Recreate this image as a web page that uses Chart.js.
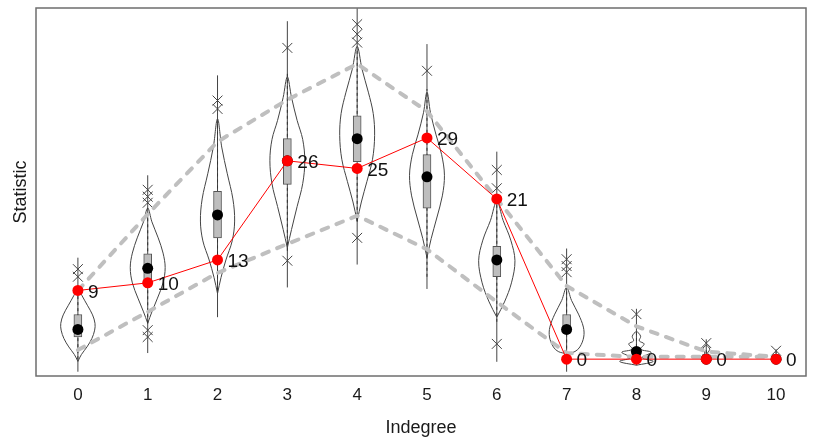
<!DOCTYPE html>
<html>
<head>
<meta charset="utf-8">
<script src="https://cdn.jsdelivr.net/npm/chart.js@4/dist/chart.umd.min.js"></script>
<style>
  html, body { margin: 0; padding: 0; background: #ffffff; }
  #wrap { width: 814px; height: 446px; }
</style>
</head>
<body>
<div id="wrap"><canvas id="c" width="814" height="446"></canvas></div>
<script>
// ---- data ----
const categories = [0, 1, 2, 3, 4, 5, 6, 7, 8, 9, 10];
const observed   = [9, 10, 13, 26, 25, 29, 21, 0, 0, 0, 0];
const upperBand  = [9.0, 19.0, 28.5, 34.0, 38.7, 32.5, 21.0, 9.6, 4.3, 1.0, 0.3];
const lowerBand  = [1.2, 6.2, 11.3, 15.1, 18.8, 14.4, 7.5, 0.8, 0.3, 0.3, 0.3];
const boxLow     = [2.9, 10.3, 15.9, 22.9, 25.9, 19.8, 10.8, 3.4, 0.4, 0.0, 0.0];
const boxHigh    = [5.85, 13.8, 22.0, 28.9, 31.9, 26.8, 14.8, 5.85, 1.4, 0.6, 0.2];
const medians    = [3.9, 11.9, 18.9, 26.0, 28.9, 23.9, 13.0, 3.9, 1.0, 0.0, 0.0];
const rangeLow   = [-1.65, 0.8, 5.5, 9.4, 12.4, 9.2, -0.35, -1.65, -0.8, -0.3, 0.0];
const rangeHigh  = [13.3, 24.1, 37.2, 44.3, 46.0, 41.3, 27.2, 14.5, 6.6, 2.6, 1.3];
const whiskerLow = [0.0, 4.7, 9.0, 14.2, 18.0, 10.8, 4.9, 0.6, 0.0, 0.0, 0.0];
const whiskerHigh= [9.4, 19.8, 30.9, 37.8, 40.5, 35.4, 21.0, 9.5, 3.5, 1.5, 1.0];
const outliers = [
  [11.8, 10.8],
  [22.2, 21.3, 20.5, 3.8, 2.9],
  [33.9, 32.8],
  [40.8, 12.9],
  [43.9, 42.6, 41.5, 15.9],
  [37.8],
  [24.8, 22.4, 2.0],
  [13.1, 12.2, 11.4],
  [5.9],
  [2.1],
  [1.1]
];
// violin outlines: [value, half-width in category units], bottom to top
const violins = [
  [[-0.3,0],[0.6,0.05],[1.6,0.13],[2.7,0.2],[3.8,0.24],[4.7,0.245],[5.8,0.21],[7.0,0.14],[8.3,0.06],[9.4,0]],
  [[4.7,0],[6.2,0.06],[8.0,0.14],[10.0,0.22],[12.0,0.25],[13.9,0.22],[15.9,0.15],[18.0,0.06],[19.8,0]],
  [[8.6,0],[10.7,0.05],[13.0,0.12],[15.5,0.21],[18.1,0.245],[21.0,0.22],[24.3,0.14],[27.8,0.06],[31.5,0]],
  [[14.6,0],[17.0,0.06],[20.0,0.14],[23.0,0.22],[26.0,0.25],[28.8,0.22],[31.3,0.14],[34.3,0.06],[37.0,0]],
  [[18.1,0],[20.6,0.06],[23.3,0.14],[26.2,0.22],[29.3,0.25],[32.2,0.23],[35.0,0.16],[38.0,0.07],[41.0,0]],
  [[13.3,0],[15.8,0.06],[18.5,0.14],[21.4,0.22],[24.1,0.25],[26.8,0.21],[29.4,0.13],[32.3,0.05],[35.0,0]],
  [[5.5,0],[7.5,0.11],[10.0,0.21],[12.9,0.26],[15.6,0.2],[18.2,0.09],[20.7,0]],
  [[0.7,0],[1.0,0.12],[1.6,0.19],[2.9,0.245],[4.2,0.24],[5.9,0.17],[7.7,0.07],[9.4,0]],
  [[-0.8,0],[-0.3,0.24],[0.2,0.08],[0.9,0.21],[1.3,0.06],[2.0,0.11],[2.4,0.04],[3.0,0.06],[3.6,0]],
  [[-0.2,0],[0.3,0.05],[0.8,0.02],[1.3,0.05],[1.8,0]],
  [[-0.1,0],[0.2,0.03],[0.5,0]]
];
const xTitle = 'Indegree';
const yTitle = 'Statistic';

// ---- build datasets ----
const FONT = "'Liberation Sans', Arial, sans-serif";
const datasets = [];

datasets.push({
  type: 'line', label: 'observed', order: 0,
  data: categories.map((c, i) => ({x: c, y: observed[i]})),
  borderColor: '#ff0000', borderWidth: 1, backgroundColor: '#ff0000',
  pointRadius: 5.5, pointBorderWidth: 0, showLine: true, tension: 0
});
datasets.push({
  type: 'scatter', label: 'median', order: 1,
  data: categories.map((c, i) => ({x: c, y: medians[i]})),
  backgroundColor: '#000000', pointRadius: 5.5, pointBorderWidth: 0
});
const bandStyle = {
  type: 'line', showLine: true, borderColor: '#bfbfbf', borderWidth: 4,
  borderDash: [7, 9], borderCapStyle: 'round', pointRadius: 0, tension: 0, order: 2
};
datasets.push(Object.assign({label: 'upper', data: categories.map((c, i) => ({x: c, y: upperBand[i]}))}, bandStyle));
datasets.push(Object.assign({label: 'lower', data: categories.map((c, i) => ({x: c, y: lowerBand[i]}))}, bandStyle));

const outPts = [];
categories.forEach((c, i) => outliers[i].forEach(v => outPts.push({x: c, y: v})));
datasets.push({
  type: 'scatter', label: 'outliers', order: 3, data: outPts,
  pointStyle: 'crossRot', pointRadius: 7, borderColor: '#444444', pointBorderWidth: 1,
  backgroundColor: 'rgba(0,0,0,0)'
});
datasets.push({
  type: 'bar', label: 'box', order: 4,
  data: categories.map((c, i) => ({x: c, y: [boxLow[i], boxHigh[i]]})),
  backgroundColor: '#bebebe', borderColor: '#555555', borderWidth: 1,
  borderSkipped: false, barThickness: 8, grouped: false
});
const whiskPts = [];
categories.forEach((c, i) => { whiskPts.push({x: c, y: whiskerLow[i]}, {x: c, y: whiskerHigh[i]}, {x: c, y: null}); });
datasets.push({
  type: 'line', label: 'whiskers', order: 5, data: whiskPts, showLine: true, spanGaps: false,
  borderColor: '#333333', borderWidth: 1, borderDash: [3, 3], pointRadius: 0
});
const rangePts = [];
categories.forEach((c, i) => { rangePts.push({x: c, y: rangeLow[i]}, {x: c, y: rangeHigh[i]}, {x: c, y: null}); });
datasets.push({
  type: 'line', label: 'range', order: 6, data: rangePts, showLine: true, spanGaps: false,
  borderColor: '#444444', borderWidth: 1, pointRadius: 0
});
categories.forEach((c, i) => {
  const prof = violins[i];
  const pts = [];
  prof.forEach(p => pts.push({x: c + p[1], y: p[0]}));
  for (let k = prof.length - 2; k >= 0; k--) pts.push({x: c - prof[k][1], y: prof[k][0]});
  datasets.push({
    type: 'line', label: 'violin' + c, order: 7, data: pts, showLine: true,
    borderColor: '#444444', borderWidth: 1, pointRadius: 0, tension: 0.35, fill: false
  });
});

const labelPlugin = {
  id: 'obsLabels',
  afterDatasetsDraw(chart) {
    const meta = chart.getDatasetMeta(0);
    const ctx = chart.ctx;
    ctx.save();
    ctx.font = '19px ' + FONT;
    ctx.fillStyle = '#111111';
    ctx.textAlign = 'left';
    ctx.textBaseline = 'middle';
    meta.data.forEach((pt, i) => {
      ctx.fillText(String(observed[i]), pt.x + 10, pt.y + 2);
    });
    ctx.restore();
  }
};
const framePlugin = {
  id: 'frame',
  afterDraw(chart) {
    const a = chart.chartArea, ctx = chart.ctx;
    ctx.save();
    ctx.strokeStyle = '#6e6e6e';
    ctx.lineWidth = 1.5;
    ctx.strokeRect(a.left, a.top, a.right - a.left, a.bottom - a.top);
    ctx.restore();
  }
};

new Chart(document.getElementById('c'), {
  type: 'scatter',
  data: { datasets },
  options: {
    responsive: false,
    animation: false,
    layout: { padding: { left: 0, right: 6, top: 5, bottom: 0 } },
    plugins: { legend: { display: false }, tooltip: { enabled: false } },
    scales: {
      x: {
        type: 'linear', min: -0.6, max: 10.4286, offset: false,
        grid: { display: false, drawTicks: false },
        border: { display: false },
        afterBuildTicks: (s) => { s.ticks = categories.map(v => ({value: v})); },
        afterFit: (s) => { s.height = 70; },
        ticks: { font: { size: 17, family: FONT }, color: '#1a1a1a', padding: 9, maxRotation: 0,
                 callback: (v) => String(v) },
        title: { display: true, text: xTitle, font: { size: 18, family: FONT }, color: '#1a1a1a',
                 padding: { top: 4, bottom: 7.2 } }
      },
      y: {
        type: 'linear', min: -2.21, max: 46.03,
        grid: { display: false, drawTicks: false },
        border: { display: false },
        afterFit: (s) => { s.width = 36; },
        ticks: { display: false },
        title: { display: true, text: yTitle, font: { size: 18, family: FONT }, color: '#1a1a1a',
                 padding: { top: 10.7, bottom: 3.7 } }
      }
    }
  },
  plugins: [labelPlugin, framePlugin]
});
</script>
</body>
</html>
